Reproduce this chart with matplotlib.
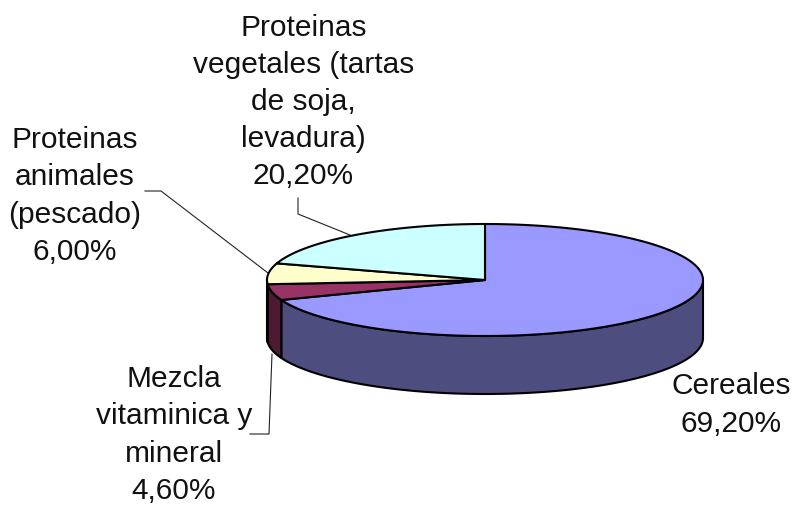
#!/usr/bin/env python3

import matplotlib
matplotlib.use('Agg')
import matplotlib.pyplot as plt
import numpy as np

labels = ['Cereales\n69,20%', 'Mezcla\nvitaminica y\nmineral\n4,60%',
          'Proteinas\nanimales\n(pescado)\n6,00%',
          'Proteinas\nvegetales (tartas\nde soja,\nlevadura)\n20,20%']
shares = [69.2, 4.6, 6.0, 20.2]
top_colors = ['#9999FF', '#993366', '#FFFFCC', '#CCFFFF']
side_colors = ['#4D4D80', '#4D1A33', '#808066', '#668080']

# ellipse geometry, in picture pixels
cx, cy = 485, 280
rx, ry = 218, 56
depth = 58


def point(frac):
    a = 2 * np.pi * frac
    return cx + rx * np.sin(a), cy - ry * np.cos(a)


fig = plt.figure(figsize=(7.92, 5.09), dpi=100)
ax = fig.add_axes([0, 0, 1, 1])
ax.set_xlim(0, 792)
ax.set_ylim(509, 0)
ax.axis('off')

edges = np.cumsum([0] + shares) / 100.0

# side walls: only the front half of the rim shows
for i in range(len(shares)):
    lo = max(edges[i], 0.25)
    hi = min(edges[i + 1], 0.75)
    if hi <= lo:
        continue
    t = np.linspace(lo, hi, 120)
    x, y = point(t)
    ax.fill(np.r_[x, x[::-1]], np.r_[y, y[::-1] + depth], fc=side_colors[i],
            ec='black', lw=1.5, zorder=2)

# top faces
for i in range(len(shares)):
    t = np.linspace(edges[i], edges[i + 1], 200)
    x, y = point(t)
    ax.fill(np.r_[cx, x], np.r_[cy, y], fc=top_colors[i], ec='black', lw=1.5,
            joinstyle='round', zorder=3)

font = dict(family='Liberation Sans', fontsize=21.5, color='#111111', ha='center',
            va='center', linespacing=1.42)
ax.text(731, 405, labels[0], **font)
ax.text(174, 435, labels[1], **font)
ax.text(75, 196, labels[2], **font)
ax.text(303.5, 102, labels[3], **font)

# leader lines
ax.plot([272, 269, 250], [354, 434, 434], color='#222222', lw=0.8, zorder=1)
ax.plot([268, 161, 145], [273, 191, 191], color='#222222', lw=0.8, zorder=1)
ax.plot([350, 298, 298], [235, 214, 198], color='#222222', lw=0.8, zorder=1)

fig.savefig('out.png', dpi=100)
